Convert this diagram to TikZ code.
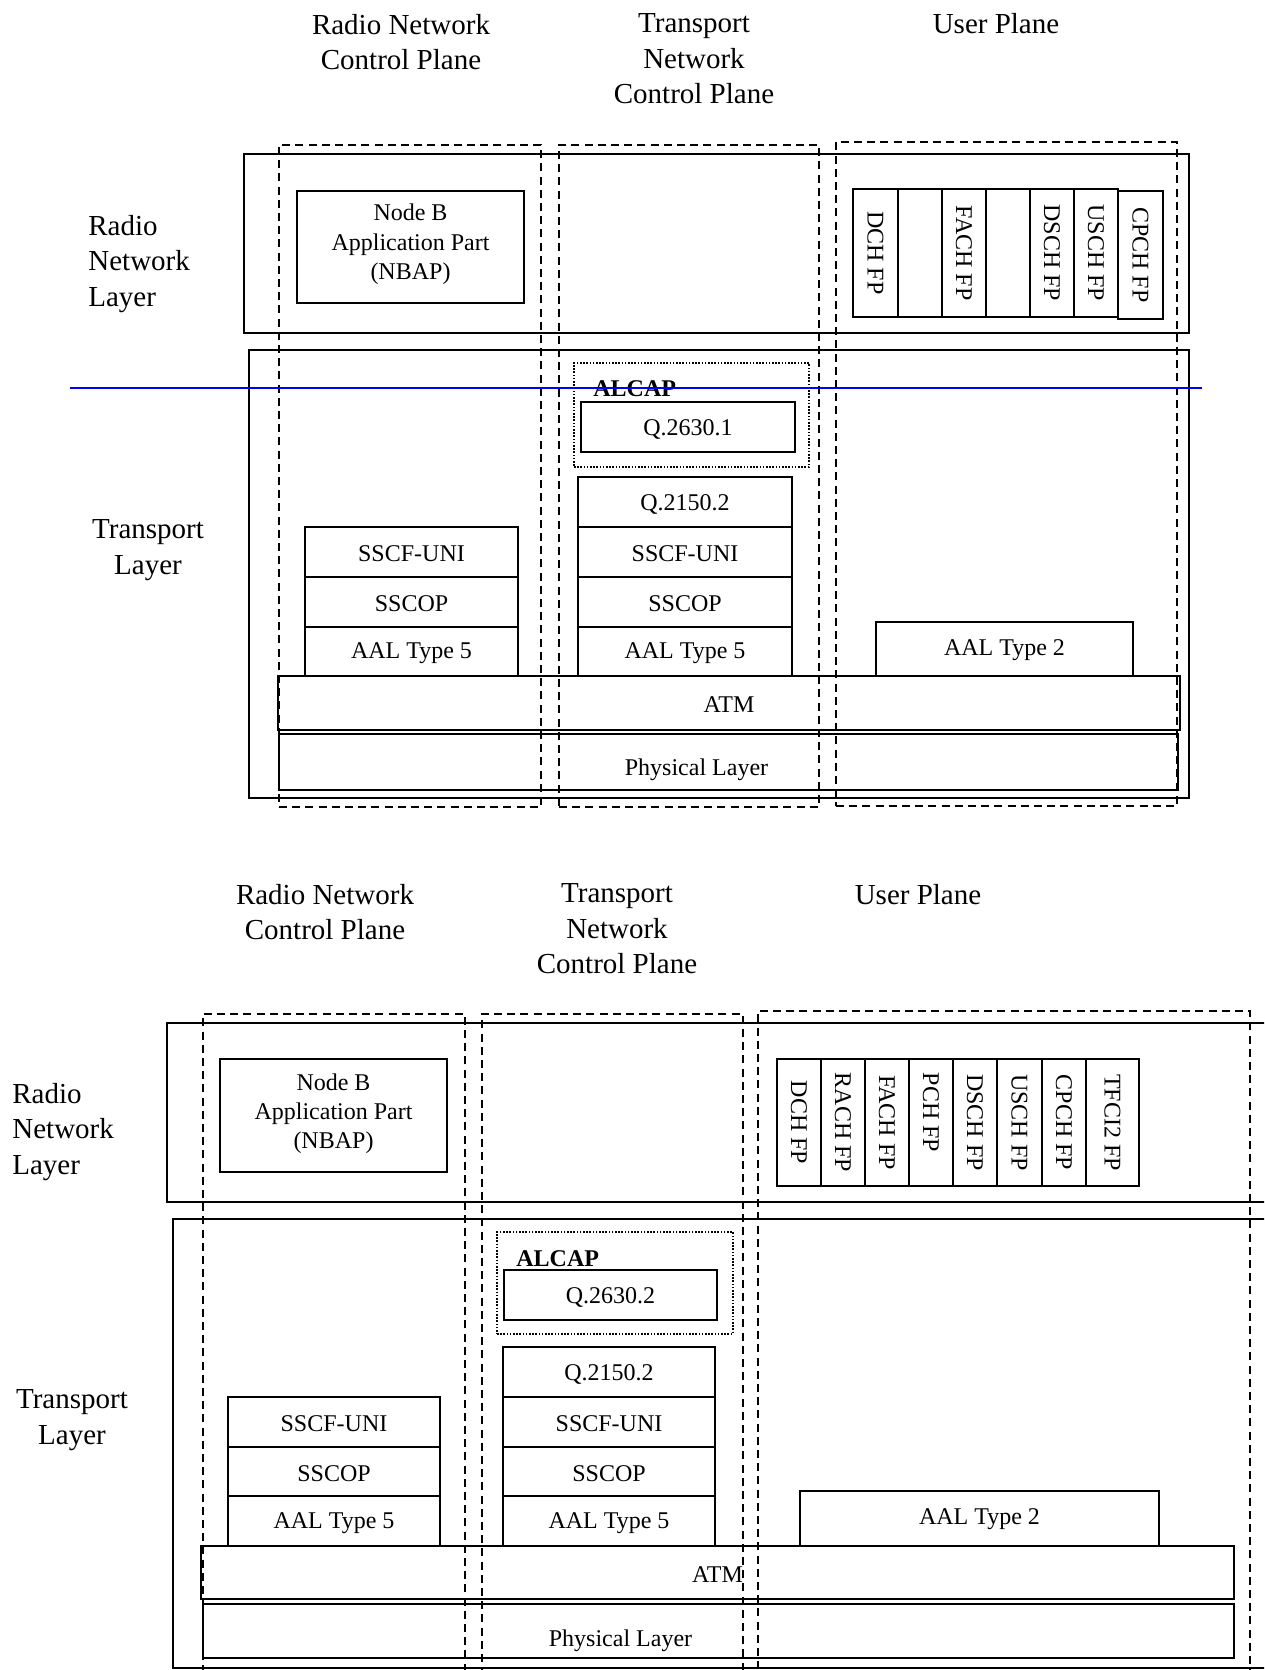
\documentclass[tikz,border=0pt]{standalone}
\usepackage{fontspec}
\setmainfont{Liberation Serif}
\usetikzlibrary{fit}
\tikzset{
  layerbox/.style={draw, line width=1.25pt, inner sep=0pt},
  colbox/.style={draw, dash pattern=on 4pt off 2.6pt, line width=0.95pt, inner sep=0pt},
  pbox/.style={draw, line width=0.8pt, inner sep=0pt},
  boxtext/.style={font=\fontsize{12}{14.6}\selectfont, align=center, inner sep=0pt},
  txt/.style={label={[boxtext,yshift=-1pt]center:#1}},
  alcapbox/.style={draw, dash pattern=on 0.8pt off 0.8pt, line width=0.8pt, inner sep=0pt},
  bigtext/.style={font=\fontsize{14.5}{17.7}\selectfont, align=center},
  fptext/.style={rotate=-90, font=\fontsize{12}{15}\selectfont},
  fp/.style={label={[fptext]center:#1}},
  alcaptext/.style={font=\fontsize{12}{15}\selectfont\bfseries, anchor=west, inner sep=0pt},
}
\begin{document}
\begin{tikzpicture}[x=0.5pt,y=-0.5pt]
\useasboundingbox (0,0) rectangle (1264,1670);
\clip (0,0) rectangle (1264,1670);

% ================= TOP DIAGRAM =================
\node[bigtext] (tA1) at (401,42) {Radio Network\\Control Plane};
\node[bigtext] (tA2) at (694,59) {Transport\\Network\\Control Plane};
\node[bigtext] (tA3) at (996,24) {User Plane};
\node[bigtext, align=left, anchor=west, inner sep=0pt] (lA1) at (88,264) {Radio\\Network\\Layer};
\node[bigtext] (lA2) at (148,550) {Transport\\Layer};

\node[layerbox, fit={(244,154)(1189,333)}] (rnlA) {};
\node[layerbox, fit={(249,350)(1189,798)}] (tlA) {};

\node[pbox, fit={(297,191)(524,303)}, label={[boxtext,yshift=1.3pt]center:Node B\\Application Part\\(NBAP)}] (nbapA) {};

\node[pbox, fit={(853,189)(898,317)}, fp={DCH FP}] (fpA1) {};
\node[pbox, fit={(898,189)(942,317)}] (fpA2) {};
\node[pbox, fit={(942,189)(986,317)}, fp={FACH FP}] (fpA3) {};
\node[pbox, fit={(986,189)(1030,317)}] (fpA4) {};
\node[pbox, fit={(1030,189)(1074,317)}, fp={DSCH FP}] (fpA5) {};
\node[pbox, fit={(1074,189)(1118,317)}, fp={USCH FP}] (fpA6) {};
\node[pbox, fit={(1118,191)(1163,319)}, fp={CPCH FP}] (fpA7) {};

\node[alcapbox, fit={(574,363)(809,467)}] (alcapA) {};
\node[alcaptext] (alcapAt) at (593,389) {ALCAP};
\node[pbox, fit={(581,402)(795,452)}, txt={Q.2630.1}] (q2630A) {};

\node[pbox, fit={(578,477)(792,527)}, txt={Q.2150.2}] (q2150A) {};
\node[pbox, fit={(578,527)(792,577)}, txt={SSCF-UNI}] (sscfA2) {};
\node[pbox, fit={(578,577)(792,627)}, txt={SSCOP}] (sscopA2) {};
\node[pbox, fit={(578,627)(792,676)}, txt={AAL Type 5}] (aal5A2) {};

\node[pbox, fit={(305,527)(518,577)}, txt={SSCF-UNI}] (sscfA1) {};
\node[pbox, fit={(305,577)(518,627)}, txt={SSCOP}] (sscopA1) {};
\node[pbox, fit={(305,627)(518,676)}, txt={AAL Type 5}] (aal5A1) {};

\node[pbox, fit={(876,622)(1133,676)}, label={[boxtext,yshift=-0.5pt]center:AAL Type 2}] (aal2A) {};
\node[pbox, line width=1pt, fit={(278,676)(1180,730)}, txt={ATM}] (atmA) {};
\node[pbox, line width=1pt, fit={(279,734)(1178,790)}, label={[boxtext,xshift=-16pt,yshift=-4pt]center:Physical Layer}] (phyA) {};

\node[colbox, fit={(279,145)(541,807)}] (colA1) {};
\node[colbox, fit={(559,145)(819,807)}] (colA2) {};
\node[colbox, fit={(836,142)(1177,806)}] (colA3) {};

\coordinate (blueL) at (70,388);
\coordinate (blueR) at (1202,388);
\draw[blue, line width=0.6pt] (blueL) -- (blueR);

% ================= BOTTOM DIAGRAM =================
\node[bigtext] (tB1) at (325,912) {Radio Network\\Control Plane};
\node[bigtext] (tB2) at (617,929) {Transport\\Network\\Control Plane};
\node[bigtext] (tB3) at (918,895) {User Plane};
\node[bigtext, align=left, anchor=west, inner sep=0pt] (lB1) at (12,1132) {Radio\\Network\\Layer};
\node[bigtext] (lB2) at (72,1420) {Transport\\Layer};

\node[layerbox, fit={(167,1023)(1320,1202)}] (rnlB) {};
\node[layerbox, fit={(173,1219)(1320,1668)}] (tlB) {};

\node[pbox, fit={(220,1059)(447,1172)}, label={[boxtext,yshift=1pt]center:Node B\\Application Part\\(NBAP)}] (nbapB) {};

\node[pbox, fit={(777,1059)(821,1186)}, fp={DCH FP}] (fpB1) {};
\node[pbox, fit={(821,1059)(865,1186)}, fp={RACH FP}] (fpB2) {};
\node[pbox, fit={(865,1059)(909,1186)}, fp={FACH FP}] (fpB3) {};
\node[pbox, fit={(909,1059)(953,1186)}, label={[yshift=5pt,fptext]center:PCH FP}] (fpB4) {};
\node[pbox, fit={(953,1059)(997,1186)}, fp={DSCH FP}] (fpB5) {};
\node[pbox, fit={(997,1059)(1042,1186)}, fp={USCH FP}] (fpB6) {};
\node[pbox, fit={(1042,1059)(1086,1186)}, fp={CPCH FP}] (fpB7) {};
\node[pbox, fit={(1086,1059)(1139,1186)}, fp={TFCI2 FP}] (fpB8) {};

\node[alcapbox, fit={(497,1232)(733,1334)}] (alcapB) {};
\node[alcaptext] (alcapBt) at (516,1259) {ALCAP};
\node[pbox, fit={(504,1270)(717,1320)}, txt={Q.2630.2}] (q2630B) {};

\node[pbox, fit={(503,1347)(715,1397)}, txt={Q.2150.2}] (q2150B) {};
\node[pbox, fit={(503,1397)(715,1447)}, txt={SSCF-UNI}] (sscfB2) {};
\node[pbox, fit={(503,1447)(715,1496)}, txt={SSCOP}] (sscopB2) {};
\node[pbox, fit={(503,1496)(715,1546)}, txt={AAL Type 5}] (aal5B2) {};

\node[pbox, fit={(228,1397)(440,1447)}, txt={SSCF-UNI}] (sscfB1) {};
\node[pbox, fit={(228,1447)(440,1496)}, txt={SSCOP}] (sscopB1) {};
\node[pbox, fit={(228,1496)(440,1546)}, txt={AAL Type 5}] (aal5B1) {};

\node[pbox, fit={(800,1491)(1159,1546)}, label={[boxtext,yshift=-0.5pt]center:AAL Type 2}] (aal2B) {};
\node[pbox, line width=1pt, fit={(201,1546)(1234,1599)}, txt={ATM}] (atmB) {};
\node[pbox, line width=1pt, fit={(203,1604)(1234,1658)}, label={[boxtext,xshift=-49pt,yshift=-5pt]center:Physical Layer}] (phyB) {};

\node[colbox, fit={(203,1014)(465,1700)}] (colB1) {};
\node[colbox, fit={(482,1014)(743,1700)}] (colB2) {};
\node[colbox, fit={(758,1011)(1250,1700)}] (colB3) {};
\end{tikzpicture}
\end{document}
